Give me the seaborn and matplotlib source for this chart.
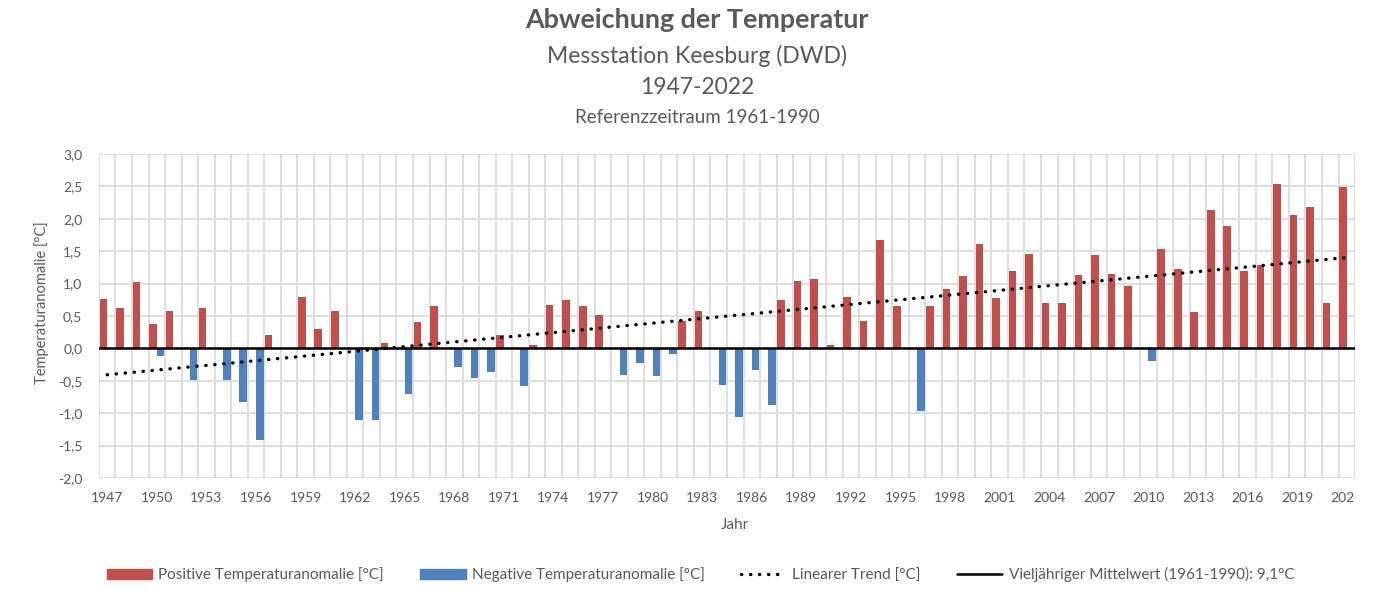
import numpy as np
import pandas as pd
import matplotlib
matplotlib.use('Agg')
import matplotlib.pyplot as plt
from matplotlib.patches import Patch
from matplotlib.lines import Line2D
from matplotlib.transforms import Bbox, TransformedBbox
import seaborn as sns

nan = np.nan

# Jahre 1947-2022
years = list(range(1947, 2023))

# positive Anomalien [°C] (NaN = kein Balken)
pos = [0.76, 0.63, 1.02, 0.37, 0.57, nan, 0.63, nan, nan, nan,     # 1947-1956
       0.20, nan, 0.80, 0.30, 0.58, nan, nan, 0.09, nan, 0.41,     # 1957-1966
       0.65, nan, nan, nan, 0.20, nan, 0.06, 0.67, 0.74, 0.65,     # 1967-1976
       0.52, nan, nan, nan, nan, 0.43, 0.58, nan, nan, nan,        # 1977-1986
       nan, 0.74, 1.04, 1.07, 0.05, 0.80, 0.43, 1.67, 0.65, nan,   # 1987-1996
       0.65, 0.91, 1.11, 1.61, 0.78, 1.19, 1.45, 0.70, 0.70, 1.13, # 1997-2006
       1.44, 1.15, 0.96, nan, 1.54, 1.22, 0.56, 2.13, 1.89, 1.20,  # 2007-2016
       1.28, 2.54, 2.06, 2.19, 0.70, 2.49]                         # 2017-2022

# negative Anomalien [°C]
neg = [nan, nan, nan, -0.11, nan, -0.49, nan, -0.49, -0.82, -1.41,  # 1947-1956
       nan, nan, nan, nan, nan, -1.10, -1.10, nan, -0.70, nan,      # 1957-1966
       nan, -0.28, -0.45, -0.37, nan, -0.58, nan, nan, nan, nan,    # 1967-1976
       nan, -0.41, -0.23, -0.43, -0.08, nan, nan, -0.56, -1.06, -0.34,  # 1977-1986
       -0.87, nan, nan, nan, nan, nan, nan, nan, nan, -0.97,        # 1987-1996
       nan, nan, nan, nan, nan, nan, nan, nan, nan, nan,            # 1997-2006
       nan, nan, nan, -0.20, nan, nan, nan, nan, nan, nan,          # 2007-2016
       nan, nan, nan, nan, nan, nan]                                # 2017-2022

lbl_pos = 'Positive Temperaturanomalie [°C]'
lbl_neg = 'Negative Temperaturanomalie [°C]'
lbl_trend = 'Linearer Trend [°C]'
lbl_mean = 'Vieljähriger Mittelwert (1961-1990): 9,1°C'

red = '#C0504D'
blue = '#4F81BD'
txt = '#595959'
grid = '#D9D9D9'

sns.set_theme(style='white')
plt.rcParams['font.family'] = ['Lato', 'DejaVu Sans']

n = len(years)
df = pd.DataFrame({
    'Jahr': years * 2,
    'Wert': pos + neg,
    'Reihe': [lbl_pos] * n + [lbl_neg] * n,
})

fig = plt.figure(figsize=(13.82, 5.89), dpi=100)
ax = fig.add_axes([0.0716, 0.1885, 0.9089, 0.55])

sns.barplot(data=df, x='Jahr', y='Wert', hue='Reihe', order=years,
            hue_order=[lbl_pos, lbl_neg], palette=[red, blue],
            errorbar=None, width=0.92, saturation=1, linewidth=0,
            legend=False, ax=ax, zorder=2)

# linearer Trend aus den Jahreswerten
total = np.nansum(np.vstack([pos, neg]), axis=0)
xi = np.arange(n)
coef = np.polyfit(xi, total, 1)
ax.plot(xi, np.polyval(coef, xi), color='black', lw=2.4,
        linestyle=(0, (0.1, 2.6)), dash_capstyle='round', zorder=4)

ax.axhline(0, color='black', lw=1.8, zorder=3)

ax.set_ylim(-2, 3)
ax.set_xlim(-0.5, 75.0)
ax.set_yticks(np.arange(-2, 3.01, 0.5))
ax.set_yticklabels([f'{v:.1f}'.replace('.', ',') for v in np.arange(-2, 3.01, 0.5)])
ax.set_xticks(xi[::3])
ax.set_xticklabels([str(y) for y in years[::3]])
ax.set_xticks(np.arange(-0.5, n, 1), minor=True)
ax.yaxis.grid(True, color=grid, lw=1.2, zorder=0)
ax.xaxis.grid(True, which='minor', color=grid, lw=1.2, zorder=0)
ax.xaxis.grid(False, which='major')
ax.set_axisbelow(True)
ax.tick_params(which='both', length=0, labelsize=10, colors=txt)
ax.tick_params(axis='x', pad=10)
ax.tick_params(axis='y', pad=12)
for s in ax.spines.values():
    s.set_visible(False)
ax.set_xlabel('')
ax.set_ylabel('')

# letzte Jahreszahl am Rand abschneiden
fig.canvas.draw()
clip = TransformedBbox(Bbox([[-0.2, -0.5], [1.0, 1.2]]), ax.transAxes)
last = ax.get_xticklabels()[-1]
last.set_clip_box(clip)
last.set_clip_on(True)

fig.text(0.5043, 0.966, 'Abweichung der Temperatur', ha='center', va='center',
         fontsize=19.4, fontweight='bold', color=txt)
fig.text(0.5043, 0.905, 'Messstation Keesburg (DWD)', ha='center', va='center',
         fontsize=16.5, color=txt)
fig.text(0.5043, 0.851, '1947-2022', ha='center', va='center',
         fontsize=16.5, color=txt)
fig.text(0.5043, 0.801, 'Referenzzeitraum 1961-1990', ha='center', va='center',
         fontsize=13.5, color=txt)
fig.text(0.030, 0.486, 'Temperaturanomalie [°C]', rotation=90, ha='center',
         va='center', fontsize=10.5, color=txt)
fig.text(0.532, 0.109, 'Jahr', ha='center', va='center', fontsize=11, color=txt)

handles = [Patch(color=red), Patch(color=blue),
           Line2D([], [], color='black', lw=2.4, linestyle=(0, (0.1, 2.6)),
                  dash_capstyle='round'),
           Line2D([], [], color='black', lw=1.8)]
fig.legend(handles, [lbl_pos, lbl_neg, lbl_trend, lbl_mean], ncol=4,
           loc='center left', bbox_to_anchor=(0.0774, 0.024), frameon=False,
           fontsize=11, handlelength=2.95, handletextpad=0.4,
           columnspacing=2.4, labelcolor=txt, borderaxespad=0, borderpad=0)

fig.savefig('out.png', dpi=100)
